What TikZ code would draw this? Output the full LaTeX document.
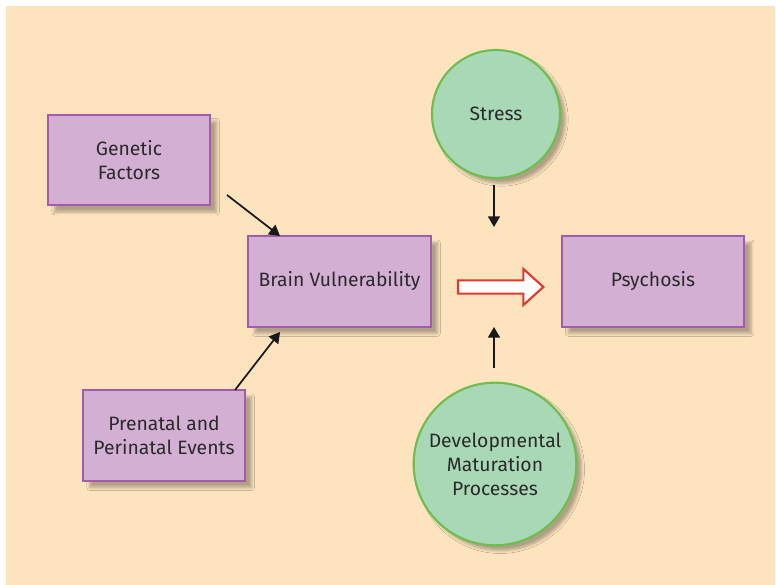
\documentclass[tikz,border=0pt]{standalone}
\usepackage{fontspec}
\setmainfont{Fira Sans}
\usepackage{tikz}
\usetikzlibrary{arrows.meta}
\usetikzlibrary{shadows.blur}
\usetikzlibrary{shapes.arrows}

\definecolor{peach}{HTML}{FDE4BF}
\definecolor{boxfill}{HTML}{D3AFD4}
\definecolor{boxline}{HTML}{A45BA9}
\definecolor{ballfill}{HTML}{A9D8B6}
\definecolor{ballline}{HTML}{6DBE4F}
\definecolor{redarrow}{HTML}{E0392B}
\definecolor{txt}{HTML}{2A2A2A}

\tikzset{
  factor/.style={draw=boxline, line width=1.6pt, fill=boxfill, minimum width=121.5pt, minimum height=68pt,
    align=center, text=txt, font=\fontsize{14.5}{18}\selectfont,
    blur shadow={shadow xshift=5pt, shadow yshift=-5pt, shadow blur steps=6, shadow opacity=30}},
  ball/.style={circle, draw=ballline, line width=1.6pt, fill=ballfill, inner sep=0pt,
    align=center, text=txt, font=\fontsize{14.5}{18}\selectfont,
    blur shadow={shadow xshift=4pt, shadow yshift=-4pt, shadow blur steps=6, shadow opacity=30}},
  link/.style={-{Triangle[length=8pt,width=9pt]}, line width=1.3pt, color=black!90}
}

\begin{document}
\begin{tikzpicture}[x=0.75pt, y=-0.75pt]
	\useasboundingbox (0,0) rectangle (776,585);
	\fill[white] (0,0) rectangle (776,585);
	\fill[peach] (6,6) rectangle (775,585);

	% boxes
	\node[factor] (genetic) at (129,160) {Genetic\\Factors};
	\node[factor] (prenatal) at (164,435.5) {Prenatal and\\Perinatal Events};
	\node[factor, minimum width=137pt] (brain) at (339.5,281.5) {Brain Vulnerability};
	\node[factor, minimum width=137pt] (psychosis) at (653,281.5) {Psychosis};

	% circles
	\node[ball, minimum size=96pt] (stress) at (496,114) {Stress};
	\node[ball, minimum size=122pt] (devel) at (495,464) {Developmental\\Maturation\\Processes};

	% arrows
	\coordinate (gstart) at (227,195);
	\coordinate (gend) at (280,236);
	\coordinate (pstart) at (235,390);
	\coordinate (pend) at (280,332);
	\coordinate (sstart) at (494,185);
	\coordinate (send) at (494,227);
	\coordinate (dstart) at (494,368);
	\coordinate (dend) at (494,327);
	\draw[link] (gstart) -- (gend);
	\draw[link] (pstart) -- (pend);
	\draw[link] (sstart) -- (send);
	\draw[link] (dstart) -- (dend);

	\node[single arrow, draw=redarrow, line width=1.6pt, fill=white, minimum height=64pt,
	  single arrow head extend=8.5pt, single arrow tip angle=84, inner xsep=0pt, inner ysep=4.2pt] (big) at (497,287) {};
\end{tikzpicture}
\end{document}
